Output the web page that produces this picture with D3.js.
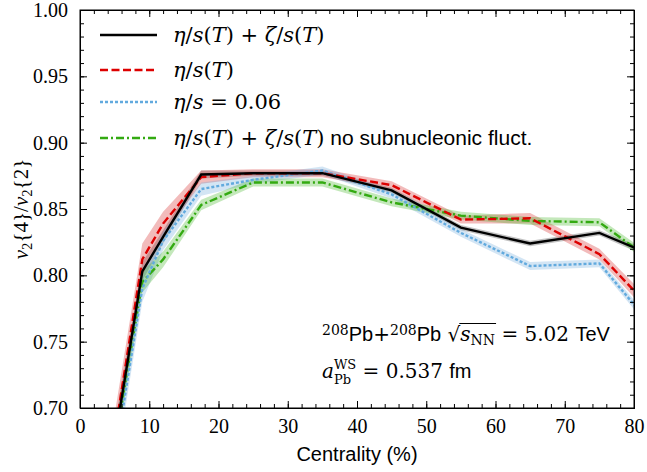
<!DOCTYPE html>
<html>
<head>
<meta charset="utf-8">
<script src="https://cdn.jsdelivr.net/npm/d3@7"></script>
<style>
  body { margin: 0; background: #fff; }
  svg { display: block; }
</style>
</head>
<body>
<svg width="647" height="472"></svg>
<script>
// centrality points shared by all curves
var centrality = [5, 9, 12, 17.5, 25, 35, 45, 55, 65, 75, 85];

var fullVals  = [0.675, 0.803, 0.829, 0.876, 0.877, 0.877, 0.864, 0.836, 0.824, 0.832, 0.810];
var fullErr   = [0.012, 0.007, 0.005, 0.003, 0.002, 0.002, 0.002, 0.002, 0.002, 0.002, 0.003];
var etaVals   = [0.680, 0.812, 0.839, 0.874, 0.877, 0.877, 0.868, 0.842, 0.843, 0.816, 0.761];
var etaErr    = [0.015, 0.012, 0.009, 0.005, 0.003, 0.003, 0.003, 0.003, 0.004, 0.004, 0.006];
var constVals = [0.661, 0.790, 0.826, 0.865, 0.872, 0.879, 0.861, 0.832, 0.807, 0.809, 0.747];
var constErr  = [0.012, 0.010, 0.007, 0.005, 0.003, 0.003, 0.003, 0.003, 0.003, 0.003, 0.004];
var noSubVals = [0.672, 0.795, 0.812, 0.853, 0.870, 0.870, 0.855, 0.845, 0.841, 0.840, 0.802];
var noSubErr  = [0.010, 0.008, 0.006, 0.004, 0.003, 0.003, 0.003, 0.003, 0.003, 0.003, 0.004];

var xTicks = [0, 10, 20, 30, 40, 50, 60, 70, 80];
var yTicks = [0.70, 0.75, 0.80, 0.85, 0.90, 0.95, 1.00];

var svg = d3.select("svg"),
    margin = {left: 80, right: 13, top: 10, bottom: 64},
    width = 647 - margin.left - margin.right,
    height = 472 - margin.top - margin.bottom;

var serif = "'Liberation Serif', serif",
    math = "'DejaVu Serif', serif",
    sans = "'Liberation Sans', sans-serif";

var x = d3.scaleLinear().domain([0, 80]).range([0, width]),
    y = d3.scaleLinear().domain([0.70, 1.00]).range([height, 0]);

var g = svg.append("g")
    .attr("transform", "translate(" + margin.left + "," + margin.top + ")");

g.append("clipPath").attr("id", "clip")
  .append("rect").attr("width", width).attr("height", height);

var series = [
  {vals: fullVals,  err: fullErr,  color: "#000000", band: "rgba(80,80,80,0.35)",    dash: null},
  {vals: etaVals,   err: etaErr,   color: "#dd0000", band: "rgba(215,50,50,0.33)",   dash: "8,3.5"},
  {vals: constVals, err: constErr, color: "#62aade", band: "rgba(110,170,220,0.30)", dash: "3,2"},
  {vals: noSubVals, err: noSubErr, color: "#33aa11", band: "rgba(60,180,30,0.30)",   dash: "8,3,2,3"}
];

var plot = g.append("g").attr("clip-path", "url(#clip)");

var area = d3.area()
    .x(function(d) { return x(d.c); })
    .y0(function(d) { return y(d.v - d.e); })
    .y1(function(d) { return y(d.v + d.e); });

var line = d3.line()
    .x(function(d) { return x(d.c); })
    .y(function(d) { return y(d.v); });

series.forEach(function(s) {
  var pts = centrality.map(function(c, i) { return {c: c, v: s.vals[i], e: s.err[i]}; });
  plot.append("path").attr("d", area(pts)).attr("fill", s.band);
  s.pts = pts;
});
// lines drawn in reverse so the black one sits on top
series.slice().reverse().forEach(function(s) {
  plot.append("path").attr("d", line(s.pts))
    .attr("fill", "none")
    .attr("stroke", s.color)
    .attr("stroke-width", 2.4)
    .attr("stroke-dasharray", s.dash);
});

// axes, ticks pointing inward on all four sides
var xMinor = d3.range(0, 81, 2),
    yMinor = d3.range(70, 101, 1).map(function(d) { return d / 100; });

var gx = g.append("g").attr("transform", "translate(0," + height + ")")
  .call(d3.axisBottom(x).tickValues(xTicks).tickSize(-7).tickPadding(11).tickFormat(d3.format("d")));
gx.append("g").call(d3.axisBottom(x).tickValues(xMinor).tickSize(-4).tickFormat(""));
var gxt = g.append("g")
  .call(d3.axisTop(x).tickValues(xTicks).tickSize(-7).tickFormat(""));
gxt.append("g").call(d3.axisTop(x).tickValues(xMinor).tickSize(-4).tickFormat(""));

var gy = g.append("g")
  .call(d3.axisLeft(y).tickValues(yTicks).tickSize(-7).tickPadding(11).tickFormat(d3.format(".2f")));
gy.append("g").call(d3.axisLeft(y).tickValues(yMinor).tickSize(-4).tickFormat(""));
var gyr = g.append("g").attr("transform", "translate(" + width + ",0)")
  .call(d3.axisRight(y).tickValues(yTicks).tickSize(-7).tickFormat(""));
gyr.append("g").call(d3.axisRight(y).tickValues(yMinor).tickSize(-4).tickFormat(""));

g.selectAll(".domain").attr("stroke", "#000");
g.selectAll(".tick line").attr("stroke", "#000").attr("stroke-width", 1);
g.selectAll(".tick text")
  .attr("font-family", serif).attr("font-size", "20px").attr("fill", "#000");
gy.selectAll(".tick text").attr("dx", "-1");
g.append("rect").attr("width", width).attr("height", height)
  .attr("fill", "none").attr("stroke", "#000").attr("stroke-width", 1);

// rich text helper: parts are [text, style, class]
function rich(sel, parts, size, fam) {
  parts.forEach(function(p) {
    var st = p[1] || "r";
    var t = sel.append("tspan").text(p[0]).attr("class", p[2] || null);
    if (st.indexOf("i") === 0) t.attr("font-style", "italic");
    t.attr("font-family", st === "sans" ? sans : fam);
    if (st.indexOf("sub") >= 0) t.attr("font-size", size * 0.7).attr("baseline-shift", "-25%");
    else if (st.indexOf("sup") >= 0) t.attr("font-size", size * 0.7).attr("baseline-shift", "45%");
    else t.attr("font-size", size);
  });
  return sel;
}

var etaT = [["η", "i"], ["/", "r"], ["s", "i"], ["(", "r"], ["T", "i"], [")", "r"]];
var zetaT = [[" + ", "r"], ["ζ", "i"], ["/", "r"], ["s", "i"], ["(", "r"], ["T", "i"], [")", "r"]];
var legendItems = [
  etaT.concat(zetaT),
  etaT,
  [["η", "i"], ["/", "r"], ["s", "i"], [" = 0.06", "r"]],
  etaT.concat(zetaT).concat([[" no subnucleonic fluct.", "sans"]])
];
var legY = [25, 60, 92, 128];
legendItems.forEach(function(parts, i) {
  var s = series[i];
  g.append("line").attr("x1", 20).attr("x2", 77).attr("y1", legY[i]).attr("y2", legY[i])
    .attr("stroke", s.color).attr("stroke-width", 2.4).attr("stroke-dasharray", s.dash);
  rich(g.append("text").attr("x", 93).attr("y", legY[i] + 7), parts, 21, math);
});

// annotations
var ann1 = rich(g.append("text").attr("x", 242).attr("y", 331),
  [["208", "sup"], ["Pb", "sans"], ["+", "r"], ["208", "sup"], ["Pb", "sans"], [" √", "r", "rad"],
   ["s", "i", "rad-in"], ["NN", "sub", "rad-in"], [" = 5.02 ", "r"], ["TeV", "sans"]], 20, math);
// radical bar over s_NN
var radIn = ann1.selectAll(".rad-in").nodes();
var rx0 = radIn[0].getStartPositionOfChar(0).x,
    rx1 = radIn[1].getEndPositionOfChar(1).x;
g.append("line").attr("x1", rx0 - 1).attr("x2", rx1 + 1)
  .attr("y1", 331 - 17.5).attr("y2", 331 - 17.5)
  .attr("stroke", "#000").attr("stroke-width", 1.1);

var ann2 = rich(g.append("text").attr("x", 242).attr("y", 368),
  [["a", "i"], ["Pb", "sub", "sb"], ["WS", "sup", "sp"], [" = 0.537 ", "r"], ["fm", "sans"]], 20, math);
// stack superscript over the subscript, pulled apart so they don't touch
ann2.select(".sb").attr("font-size", 13).attr("baseline-shift", "-6px");
ann2.select(".sp").attr("font-size", 13).attr("baseline-shift", "9px");
var sbW = ann2.select(".sb").node().getComputedTextLength(),
    spW = ann2.select(".sp").node().getComputedTextLength();
ann2.select(".sp").attr("dx", -sbW);
ann2.select(".sp + tspan").attr("dx", Math.max(0, sbW - spW));

// axis titles
g.append("text").attr("x", width / 2).attr("y", height + 53)
  .attr("text-anchor", "middle").attr("font-family", sans).attr("font-size", "20px")
  .text("Centrality (%)");
rich(g.append("text").attr("transform", "translate(-52," + (height / 2) + ") rotate(-90)")
  .attr("text-anchor", "middle"),
  [["v", "i"], ["2", "sub"], ["{4}/", "r"], ["v", "i"], ["2", "sub"], ["{2}", "r"]], 21, serif);
</script>
</body>
</html>
